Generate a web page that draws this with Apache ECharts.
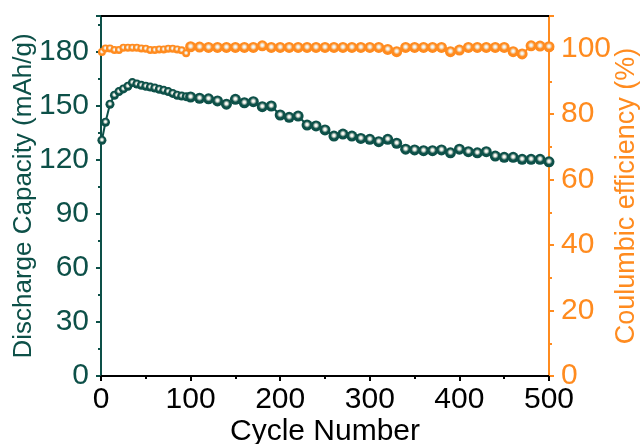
<!DOCTYPE html>
<html><head><meta charset="utf-8">
<script src="https://cdn.jsdelivr.net/npm/echarts@6/dist/echarts.min.js"></script>
<style>html,body{margin:0;padding:0;background:#fff}#c{width:641px;height:444px}</style>
</head><body><div id="c"></div>
<script>
var cycles = [1,5,10,15,20,25,30,35,40,45,50,55,60,65,70,75,80,85,90,95,100,
  110,120,130,140,150,160,170,180,190,200,210,220,230,240,250,260,270,280,290,300,
  310,320,330,340,350,360,370,380,390,400,410,420,430,440,450,460,470,480,490,500];
var capacity = [131,141,151,156,158,159.5,161,163,162.2,161.5,161,160.5,160,159.3,158.7,158,157,156,155.5,155.2,155,
  154.3,154,152.8,151,153.7,151.8,152.4,149.6,150,145,143.7,144.4,139.4,138.9,136.7,133.3,134.4,133.3,132,131.5,
  130.2,131.5,129.3,126,125.6,125.2,125.2,125.6,124,126,124.6,124,124.6,122.2,121.5,121.5,120.4,120.4,120.4,119];
var efficiency = [99.0,100.1,100.1,99.6,99.6,100.3,100.3,100.3,100.3,100.1,100.0,99.6,99.6,99.8,99.8,100.0,100.0,99.8,99.5,98.6,100.6,
  100.5,100.4,100.4,100.4,100.4,100.4,100.4,100.9,100.4,100.4,100.4,100.4,100.4,100.4,100.4,100.4,100.4,100.4,100.4,100.4,
  100.4,99.8,99.1,100.4,100.4,100.4,100.4,100.4,99.1,99.6,100.4,100.4,100.4,100.4,100.4,99.1,98.4,100.9,100.8,100.6];
var xTicks = [0,100,200,300,400,500];
var capTicks = [0,30,60,90,120,150,180];
var effTicks = [0,20,40,60,80,100];

var TEAL = '#0d5048', ORANGE = '#ff8b1f';
function ball(c){
  return {type:'radial', x:0.5, y:0.45, r:0.55, colorStops:[
    {offset:0, color:'#ffffff'},{offset:0.2, color:'#f0f0e8'},{offset:0.55, color:c},{offset:1, color:c}]};
}
var capData = cycles.map(function(c,i){return [c, capacity[i]];});
var effData = cycles.map(function(c,i){return [c, efficiency[i]];});
var FONT = 'Liberation Sans, Arial, sans-serif';
var chart = echarts.init(document.getElementById('c'), null, {renderer:'canvas'});
chart.setOption({
  animation:false,
  grid:{left:101, right:92, top:16, bottom:68, containLabel:false, outerBoundsMode:'none'},
  xAxis:[{
    type:'value', min:0, max:500, interval:100,
    name:'Cycle Number', nameLocation:'middle', nameGap:41, nameMoveOverlap:false,
    nameTextStyle:{color:'#000', fontSize:30, fontFamily:FONT},
    axisLine:{show:true, onZero:false, lineStyle:{color:'#000', width:2}},
    axisTick:{show:true, inside:false, length:5, lineStyle:{color:'#000', width:2}},
    minorTick:{show:true, splitNumber:2, length:3, lineStyle:{color:'#000', width:2}},
    axisLabel:{color:'#000', fontSize:30, fontFamily:FONT, margin:9,
      formatter:function(v){return xTicks.indexOf(v)>=0 ? String(v) : '';}},
    splitLine:{show:false}
  },{
    type:'value', min:0, max:500, position:'top',
    axisLine:{show:true, onZero:false, lineStyle:{color:'#000', width:2}},
    axisTick:{show:false}, axisLabel:{show:false}, splitLine:{show:false}
  }],
  yAxis:[{
    type:'value', min:0, max:200, interval:30, position:'left',
    name:'Discharge Capacity (mAh/g)', nameLocation:'middle', nameGap:64, nameRotate:90, nameMoveOverlap:false,
    nameTextStyle:{color:TEAL, fontSize:26, fontFamily:FONT},
    axisLine:{show:true, onZero:false, lineStyle:{color:TEAL, width:2}},
    axisTick:{show:true, inside:false, length:5, lineStyle:{color:TEAL, width:2}},
    minorTick:{show:true, splitNumber:2, length:3, lineStyle:{color:TEAL, width:2}},
    axisLabel:{color:TEAL, fontSize:30, fontFamily:FONT, margin:12, showMaxLabel:false,
      formatter:function(v){return capTicks.indexOf(v)>=0 ? String(v) : '';}},
    splitLine:{show:false}
  },{
    type:'value', min:0, max:110, interval:20, position:'right',
    name:'Coulumbic efficiency (%)', nameLocation:'middle', nameGap:64, nameRotate:90, nameMoveOverlap:false,
    nameTextStyle:{color:ORANGE, fontSize:27, fontFamily:FONT},
    axisLine:{show:true, onZero:false, lineStyle:{color:ORANGE, width:2}},
    axisTick:{show:true, inside:false, length:5, lineStyle:{color:ORANGE, width:2}},
    minorTick:{show:true, splitNumber:2, length:3, lineStyle:{color:ORANGE, width:2}},
    axisLabel:{color:ORANGE, fontSize:30, fontFamily:FONT, margin:12, showMaxLabel:false,
      formatter:function(v){return effTicks.indexOf(v)>=0 ? String(v) : '';}},
    splitLine:{show:false}
  }],
  series:[{
    type:'line', xAxisIndex:0, yAxisIndex:0, data:capData,
    symbol:'circle', symbolSize:function(v){return v[0]<100 ? 9 : 11;},
    lineStyle:{color:TEAL, width:2},
    itemStyle:{color:ball(TEAL), borderWidth:0},
    z:3
  },{
    type:'line', xAxisIndex:0, yAxisIndex:1, data:effData,
    symbol:'circle', symbolSize:function(v){return v[0]<100 ? 8 : 11;},
    lineStyle:{color:ORANGE, width:2},
    itemStyle:{color:ball(ORANGE), borderWidth:0},
    z:3
  }]
});
</script></body></html>
